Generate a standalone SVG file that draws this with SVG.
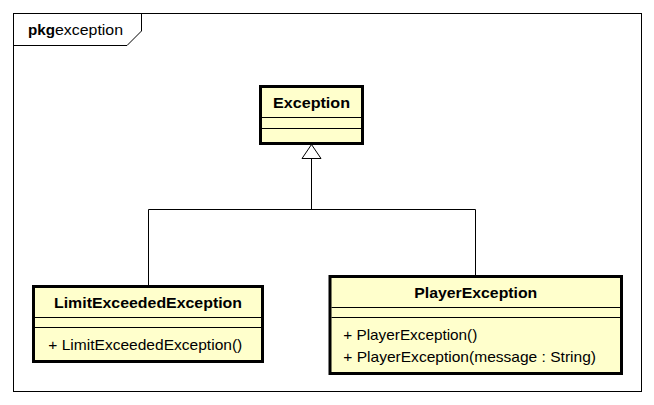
<svg xmlns="http://www.w3.org/2000/svg" width="654" height="405" viewBox="0 0 654 405">
<style>
text{font-family:"Liberation Sans",Arial,sans-serif;font-size:15px;fill:#000}
.b{font-weight:bold}
.box{fill:#FFFFCC;stroke:#000;stroke-width:3}
.sep{stroke:#000;stroke-width:1;fill:none}
.frame{fill:none;stroke:#000;stroke-width:1}
.conn{fill:none;stroke:#000;stroke-width:1}
</style>
<defs>
<marker id="gen" viewBox="0 0 14 19" refX="14" refY="9.5" markerWidth="14" markerHeight="19" markerUnits="userSpaceOnUse" orient="auto" overflow="visible">
<path d="M0,0 L14,9.5 L0,19 Z" fill="#fff" stroke="#000" stroke-width="1"/>
</marker>
</defs>
<rect width="654" height="405" fill="#fff"/>
<g id="frame">
<rect class="frame" x="13.5" y="13.5" width="628" height="378"/>
<path class="frame" d="M13.5,45.5 H127 L141.5,31 V13.5"/>
<text x="28" y="35" class="b" textLength="27" lengthAdjust="spacingAndGlyphs">pkg</text>
<text x="55" y="35" textLength="68" lengthAdjust="spacingAndGlyphs">exception</text>
</g>
<g id="connectors">
<path class="conn" d="M148.5,285 V209.5 H475.5 V275"/>
<path class="conn" d="M311.5,209.5 V144.5" marker-end="url(#gen)"/>
</g>
<g id="Exception">
<rect class="box" x="260.5" y="86.5" width="102" height="57"/>
<line class="sep" x1="262" y1="117.5" x2="361" y2="117.5"/>
<line class="sep" x1="262" y1="128.5" x2="361" y2="128.5"/>
<text x="311.5" y="108" class="b" text-anchor="middle" textLength="77" lengthAdjust="spacingAndGlyphs">Exception</text>
</g>
<g id="LimitExceededException">
<rect class="box" x="33.5" y="286.5" width="229" height="75"/>
<line class="sep" x1="35" y1="317.5" x2="261" y2="317.5"/>
<line class="sep" x1="35" y1="327.5" x2="261" y2="327.5"/>
<text x="148" y="308" class="b" text-anchor="middle" textLength="188" lengthAdjust="spacingAndGlyphs">LimitExceededException</text>
<text x="48.3" y="350" textLength="194" lengthAdjust="spacingAndGlyphs">+ LimitExceededException()</text>
</g>
<g id="PlayerException">
<rect class="box" x="330" y="276.5" width="291.5" height="97"/>
<line class="sep" x1="331.5" y1="307.5" x2="620" y2="307.5"/>
<line class="sep" x1="331.5" y1="317.5" x2="620" y2="317.5"/>
<text x="475.75" y="298" class="b" text-anchor="middle" textLength="123" lengthAdjust="spacingAndGlyphs">PlayerException</text>
<text x="343.3" y="340" textLength="134" lengthAdjust="spacingAndGlyphs">+ PlayerException()</text>
<text x="343.3" y="361.5" textLength="252.7" lengthAdjust="spacingAndGlyphs">+ PlayerException(message : String)</text>
</g>
</svg>
